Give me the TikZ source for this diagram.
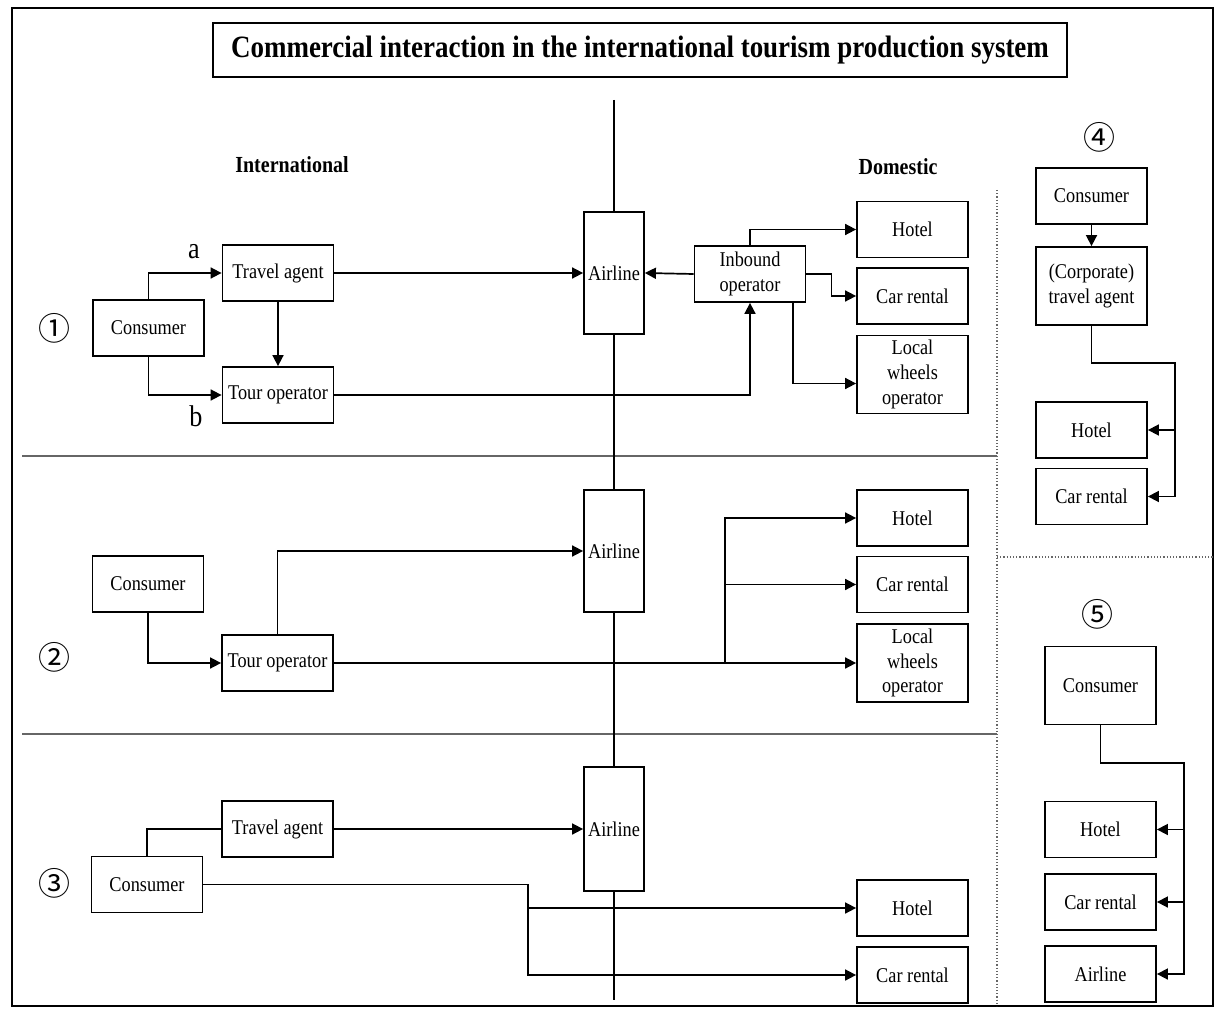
\documentclass[tikz,border=0pt]{standalone}
\usepackage{fontspec}
\setmainfont{Liberation Serif}[FakeStretch=0.87]
\newfontfamily\circfont{Noto Sans CJK SC}
\usepackage{tikz}
\usetikzlibrary{arrows.meta}

\tikzset{
  box/.style={draw, line width=0.9pt, inner sep=1pt, align=center,
    minimum width=55.5pt, minimum height=28pt, font=\fontsize{10.5}{12.4}\selectfont},
  tallbox/.style={box, minimum height=39pt},
  airbox/.style={box, minimum width=30pt, minimum height=61pt},
  titlebox/.style={draw, line width=0.9pt, minimum width=427pt, minimum height=27pt,
    font=\bfseries\fontsize{15.5}{18}\selectfont},
  head/.style={font=\bfseries\fontsize{11.5}{14}\selectfont},
  num/.style={font=\circfont\fontsize{16}{19}\selectfont},
  lab/.style={font=\fontsize{15}{18}\selectfont},
  arr/.style={-{Triangle[length=5.5pt,width=5.5pt]}},
  divider/.style={gray!80!black, line width=0.6pt}
}

\begin{document}
\begin{tikzpicture}[x=0.5pt,y=-0.5pt,line width=0.85pt]
  \useasboundingbox (0,0) rectangle (1219,1010);
  \draw[line width=1pt] (12,8) rectangle (1213,1006);
  \node[titlebox] (title) at (640,50) {Commercial interaction in the international tourism production system};
  \node[head] (intl) at (292,165) {International};
  \node[head] (dom) at (898,167) {Domestic};

  \node[num] (n1) at (55,328) {①};
  \node[num] (n2) at (54,657) {②};
  \node[num] (n3) at (54,883) {③};
  \node[num] (n4) at (1099,137) {④};
  \node[num] (n5) at (1097,614) {⑤};

  \draw[divider] (22,456) -- (997,456);
  \draw[divider] (22,734) -- (997,734);
  \draw[divider, densely dotted] (997,557) -- (1213,557);
  \draw[divider, densely dotted] (997,190) -- (997,1006);

  \node[box] (con1) at (148.5,328) {Consumer};
  \node[box] (ta1) at (278,273) {Travel agent};
  \node[box] (to1) at (278,395) {Tour operator};
  \node[airbox] (air1) at (614,273) {Airline};
  \node[box] (inb) at (750,274) {Inbound\\operator};
  \node[box] (hot1) at (912.5,229.5) {Hotel};
  \node[box] (car1) at (912.5,296) {Car rental};
  \node[tallbox] (loc1) at (912.5,374.5) {Local\\wheels\\operator};
  \node[lab] (la) at (194,252) {a};
  \node[lab] (lb) at (196,416) {b};

  \node[box] (con2) at (148,584) {Consumer};
  \node[box] (to2) at (277.5,663) {Tour operator};
  \node[airbox] (air2) at (614,551) {Airline};
  \node[box] (hot2) at (912.5,518) {Hotel};
  \node[box] (car2) at (912.5,584.5) {Car rental};
  \node[tallbox] (loc2) at (912.5,663) {Local\\wheels\\operator};

  \node[box] (ta3) at (277.5,829) {Travel agent};
  \node[box] (con3) at (147,884.5) {Consumer};
  \node[airbox, minimum height=62pt] (air3) at (614,829) {Airline};
  \node[box] (hot3) at (912.5,908) {Hotel};
  \node[box] (car3) at (912.5,975) {Car rental};

  \node[box] (con4) at (1091.5,196) {Consumer};
  \node[tallbox] (cta) at (1091.5,286) {(Corporate)\\travel agent};
  \node[box] (hot4) at (1091.5,430) {Hotel};
  \node[box] (car4) at (1091.5,496.5) {Car rental};

  \node[tallbox] (con5) at (1100.5,685.5) {Consumer};
  \node[box] (hot5) at (1100.5,829.5) {Hotel};
  \node[box] (car5) at (1100.5,902) {Car rental};
  \node[box] (air5) at (1100.5,974) {Airline};

  \coordinate (vtop) at (614,100);
  \coordinate (vbot) at (614,1000);
  \draw (vtop) -- (air1.north);
  \draw (air1.south) -- (air2.north);
  \draw (air2.south) -- (air3.north);
  \draw (air3.south) -- (vbot);

  \draw[arr] (con1.north) |- (ta1.west);
  \draw[arr] (con1.south) |- (to1.west);
  \draw[arr] (ta1.south) -- (to1.north);
  \draw[arr] (ta1.east) -- (air1.west);
  \draw[arr] (inb.west) -- (air1.east);
  \draw[arr] (to1.east) -| (inb.south);
  \draw[arr] (inb.north) |- (hot1.west);
  \draw[arr] (inb.east) -- ++(25,0) |- (car1.west);
  \draw[arr] ([xshift=21.5pt]inb.south) |- ([yshift=-4.5pt]loc1.west);

  \coordinate (br2) at (725,663);
  \draw[arr] (con2.south) |- (to2.west);
  \draw[arr] (to2.north) |- (air2.west);
  \draw[arr] (to2.east) -- (loc2.west);
  \draw[arr] (br2) |- (hot2.west);
  \draw[arr] (br2 |- car2.west) -- (car2.west);

  \coordinate (br3) at (528,884.5);
  \draw (con3.north) |- (ta3.west);
  \draw[arr] (ta3.east) -- (air3.west);
  \draw[arr] (con3.east) -- (br3) |- (hot3.west);
  \draw[arr] (br3) |- (car3.west);

  \coordinate (r4) at (1175,363);
  \draw[arr] (con4.south) -- (cta.north);
  \draw[arr] (cta.south) |- (r4) |- (car4.east);
  \draw[arr] (r4 |- hot4.east) -- (hot4.east);

  \coordinate (r5) at (1184,763);
  \draw[arr] (con5.south) |- (r5) |- (air5.east);
  \draw[arr] (r5 |- hot5.east) -- (hot5.east);
  \draw[arr] (r5 |- car5.east) -- (car5.east);
\end{tikzpicture}
\end{document}
